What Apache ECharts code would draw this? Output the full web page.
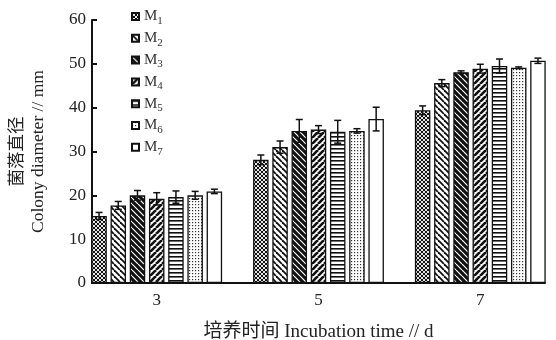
<!DOCTYPE html>
<html>
<head>
<meta charset="utf-8">
<script src="https://cdn.jsdelivr.net/npm/echarts@6/dist/echarts.min.js"></script>
<style>
  html, body { margin: 0; padding: 0; background: #fff; }
  #chart { width: 556px; height: 340px; }
</style>
</head>
<body>
<div id="chart"></div>
<script>
// incubation days on the x axis
const days = [3, 5, 7];
const strains = ['M1', 'M2', 'M3', 'M4', 'M5', 'M6', 'M7'];

// colony diameter (mm) per strain, one value per day
const m1 = [15.3, 28.1, 39.4];
const m2 = [17.7, 31.0, 45.6];
const m3 = [20.0, 34.7, 48.1];
const m4 = [19.2, 35.0, 48.9];
const m5 = [19.6, 34.5, 49.5];
const m6 = [20.0, 34.7, 49.1];
const m7 = [20.9, 37.4, 50.7];

// error bar half-lengths
const e1 = [0.8, 1.1, 1.0];
const e2 = [0.9, 1.4, 0.8];
const e3 = [1.1, 2.6, 0.3];
const e4 = [1.4, 0.9, 1.0];
const e5 = [1.4, 2.6, 1.6];
const e6 = [0.9, 0.5, 0.2];
const e7 = [0.5, 2.7, 0.6];

const yTicks = [0, 10, 20, 30, 40, 50, 60];

const means = [m1, m2, m3, m4, m5, m6, m7];
const errs = [e1, e2, e3, e4, e5, e6, e7];

const ink = '#111';
const serif = '"Liberation Serif", "Noto Sans CJK SC", serif';
const barW = 15.5;
const gapRatio = 0.24;

// little canvas tiles used as hatch fills
function tile(size, draw) {
  const c = document.createElement('canvas');
  c.width = size;
  c.height = size;
  const ctx = c.getContext('2d');
  draw(ctx, size);
  return { image: c, repeat: 'repeat' };
}

function diag(ctx, s, dir) {
  for (let k = -1; k <= 1; k++) {
    ctx.beginPath();
    if (dir > 0) {
      ctx.moveTo(k * s, s);
      ctx.lineTo(k * s + s, 0);
    } else {
      ctx.moveTo(k * s, 0);
      ctx.lineTo(k * s + s, s);
    }
    ctx.stroke();
  }
}

const fills = [
  tile(4, (ctx, s) => {
    ctx.fillStyle = ink; ctx.fillRect(0, 0, s, s);
    ctx.strokeStyle = '#fff'; ctx.lineWidth = 0.9;
    diag(ctx, s, 1); diag(ctx, s, -1);
  }),
  tile(6, (ctx, s) => {
    ctx.fillStyle = '#fff'; ctx.fillRect(0, 0, s, s);
    ctx.strokeStyle = ink; ctx.lineWidth = 1.8;
    diag(ctx, s, -1);
  }),
  tile(6, (ctx, s) => {
    ctx.fillStyle = ink; ctx.fillRect(0, 0, s, s);
    ctx.strokeStyle = '#fff'; ctx.lineWidth = 1.2;
    diag(ctx, s, -1);
  }),
  tile(6, (ctx, s) => {
    ctx.fillStyle = '#fff'; ctx.fillRect(0, 0, s, s);
    ctx.strokeStyle = ink; ctx.lineWidth = 2.6;
    diag(ctx, s, 1);
  }),
  tile(4, (ctx, s) => {
    ctx.fillStyle = '#fff'; ctx.fillRect(0, 0, s, s);
    ctx.fillStyle = ink; ctx.fillRect(0, 0, s, 1.6);
  }),
  tile(3, (ctx, s) => {
    ctx.fillStyle = '#fff'; ctx.fillRect(0, 0, s, s);
    ctx.fillStyle = '#333'; ctx.fillRect(0, 0, 1.2, 1.2);
  }),
  '#fff'
];

const barSeries = strains.map((name, i) => ({
  name,
  type: 'bar',
  barWidth: barW,
  barGap: (gapRatio * 100) + '%',
  data: days.map((d, j) => [d, means[i][j]]),
  itemStyle: { color: fills[i], borderColor: ink, borderWidth: 1.3 },
  emphasis: { disabled: true },
  z: 2
}));

const errData = [];
strains.forEach((name, i) => {
  days.forEach((d, j) => {
    errData.push([d, means[i][j], errs[i][j], i]);
  });
});

const errSeries = {
  type: 'custom',
  data: errData,
  encode: { x: 0, y: 1 },
  z: 5,
  silent: true,
  renderItem: (params, api) => {
    const x = api.value(0);
    const y = api.value(1);
    const e = api.value(2);
    const k = api.value(3);
    const shift = (k - 3) * (barW * (1 + gapRatio));
    const cx = api.coord([x, y])[0] + shift;
    const yt = api.coord([x, y + e])[1];
    const yb = api.coord([x, y - e])[1];
    const cap = 3.5;
    const style = { stroke: ink, lineWidth: 1.5 };
    return {
      type: 'group',
      children: [
        { type: 'line', shape: { x1: cx, y1: yt, x2: cx, y2: yb }, style },
        { type: 'line', shape: { x1: cx - cap, y1: yt, x2: cx + cap, y2: yt }, style },
        { type: 'line', shape: { x1: cx - cap, y1: yb, x2: cx + cap, y2: yb }, style }
      ]
    };
  }
};

const chart = echarts.init(document.getElementById('chart'), null, { renderer: 'canvas' });

const option = {
  backgroundColor: '#fff',
  animation: false,
  grid: {
    left: 92,
    right: 11,
    top: 20,
    bottom: 57,
    containLabel: false,
    outerBoundsMode: 'none'
  },
  legend: {
    orient: 'vertical',
    left: 131,
    top: 9,
    padding: 0,
    itemWidth: 7,
    itemHeight: 7,
    itemGap: 4.3,
    icon: 'rect',
    data: strains,
    selectedMode: false,
    formatter: (name) => '{m|M}{s|' + name.slice(1) + '}',
    textStyle: {
      rich: {
        m: { fontFamily: serif, fontSize: 15, color: '#333', lineHeight: 20 },
        s: { fontFamily: serif, fontSize: 11, color: '#333', lineHeight: 6, verticalAlign: 'bottom' }
      }
    }
  },
  xAxis: {
    type: 'value',
    min: 2.2,
    max: 7.8,
    splitLine: { show: false },
    axisLine: { show: true, onZero: false, lineStyle: { color: ink, width: 2 } },
    axisTick: { show: false },
    axisLabel: {
      customValues: days,
      margin: 9,
      fontFamily: serif,
      fontSize: 17,
      color: '#222'
    },
    name: '培养时间 Incubation time // d',
    nameLocation: 'middle',
    nameGap: 40,
    nameTextStyle: { fontFamily: serif, fontSize: 19, color: '#222' }
  },
  yAxis: {
    type: 'value',
    min: 0,
    max: 60,
    interval: 10,
    splitLine: { show: false },
    axisLine: { show: true, lineStyle: { color: ink, width: 2 } },
    axisTick: { show: true, inside: true, length: 5, lineStyle: { color: ink, width: 2 } },
    axisLabel: {
      customValues: yTicks,
      margin: 6,
      fontFamily: serif,
      fontSize: 17,
      color: '#222'
    },
    name: '菌落直径\nColony diameter // mm',
    nameLocation: 'middle',
    nameRotate: 90,
    nameGap: 43,
    nameTextStyle: { fontFamily: serif, fontSize: 17.5, color: '#222', lineHeight: 21 }
  },
  series: [...barSeries, errSeries]
};

chart.setOption(option);
window.addEventListener('resize', () => chart.resize());
</script>
</body>
</html>
